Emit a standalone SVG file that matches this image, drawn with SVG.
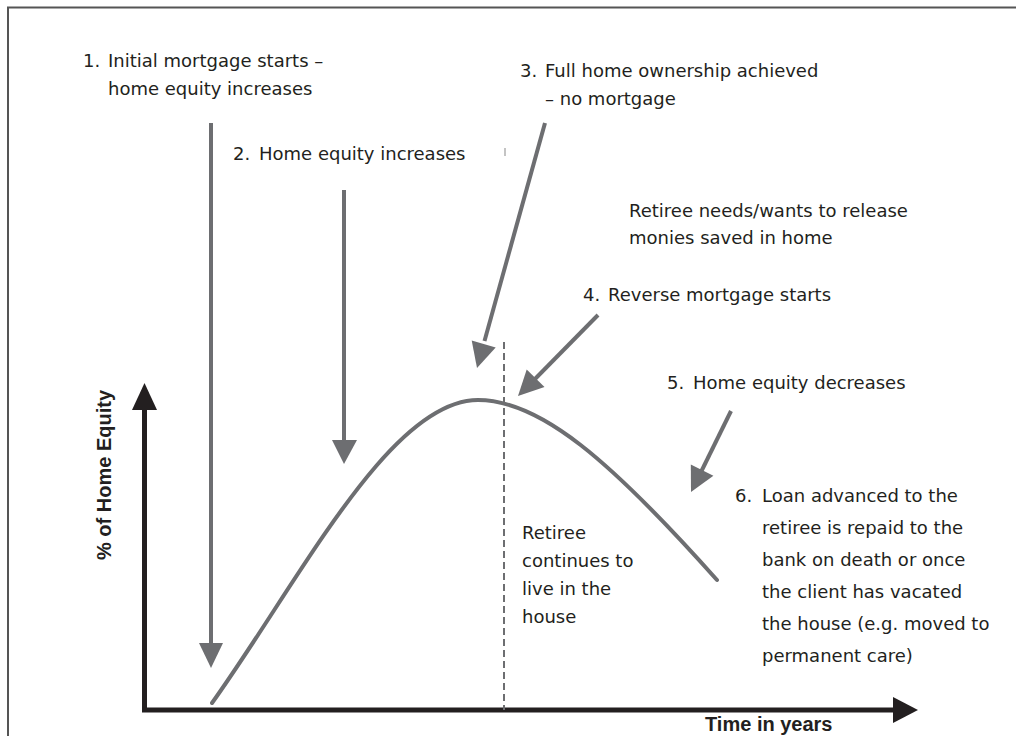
<svg xmlns="http://www.w3.org/2000/svg" width="1016" height="736" viewBox="0 0 1016 736">
<style>
.t{font-family:"DejaVu Sans",sans-serif;font-size:18px;fill:#231f20}
.b{font-family:"Liberation Sans",Arial,sans-serif;font-size:20px;font-weight:bold;fill:#231f20}
.g{stroke:#6d6e71;stroke-width:4;fill:none}
.gh{fill:#6d6e71}
.ax{stroke:#231f20;stroke-width:5;fill:none}
.ah{fill:#231f20}
</style>
<rect width="1016" height="736" fill="#fff"/>
<path d="M8,736 V7.5 H1016" fill="none" stroke="#555" stroke-width="2"/>
<g id="axes">
<line class="ax" x1="144.5" y1="712" x2="144.5" y2="408"/>
<polygon class="ah" points="144.5,383 132,410 157,410"/>
<line class="ax" x1="142" y1="710" x2="895" y2="710"/>
<polygon class="ah" points="918,710 893,697 893,723"/>
<text class="b" x="705" y="731">Time in years</text>
<text class="b" transform="translate(111,560) rotate(-90)">% of Home Equity</text>
</g>
<g id="curve">
<path class="g" stroke-linecap="round" d="M212,703 C300,580 390,400 478,400 C540,400 610,460 717,580"/>
<line x1="504" y1="342" x2="504" y2="710" stroke="#6d6e71" stroke-width="2" stroke-dasharray="7,4"/>
<line x1="505" y1="148" x2="505" y2="156" stroke="#b0b0b0" stroke-width="1.5"/>
</g>
<g id="connectors">
<line class="g" x1="211" y1="123" x2="211" y2="645"/>
<polygon class="gh" points="211,668 199,643 223,643"/>
<line class="g" x1="344" y1="190" x2="344" y2="442"/>
<polygon class="gh" points="344,464 332,440 357,440"/>
<line class="g" x1="545" y1="123" x2="484.5" y2="341"/>
<polygon class="gh" points="477,368 471.7,340.4 495.7,347.4"/>
<line class="g" x1="598" y1="315" x2="534" y2="380"/>
<polygon class="gh" points="518,396 526.7,369.4 544.5,387"/>
<line class="g" x1="731" y1="411" x2="701" y2="472"/>
<polygon class="gh" points="691,492 690.8,464.6 713.4,475.8"/>
</g>
<g id="label1">
<text class="t" x="83" y="67">1.</text>
<text class="t" x="108" y="67">Initial mortgage starts –</text>
<text class="t" x="108" y="95">home equity increases</text>
</g>
<g id="label2">
<text class="t" x="233" y="160">2.</text>
<text class="t" x="259" y="160">Home equity increases</text>
</g>
<g id="label3">
<text class="t" x="520" y="77">3.</text>
<text class="t" x="545" y="77">Full home ownership achieved</text>
<text class="t" x="545" y="105">– no mortgage</text>
</g>
<g id="labelRetiree">
<text class="t" x="629" y="217">Retiree needs/wants to release</text>
<text class="t" x="629" y="244">monies saved in home</text>
</g>
<g id="label4">
<text class="t" x="583" y="301">4.</text>
<text class="t" x="608" y="301">Reverse mortgage starts</text>
</g>
<g id="label5">
<text class="t" x="667" y="389">5.</text>
<text class="t" x="693" y="389">Home equity decreases</text>
</g>
<g id="label6">
<text class="t" x="735" y="502">6.</text>
<text class="t" x="762" y="502">Loan advanced to the</text>
<text class="t" x="762" y="534">retiree is repaid to the</text>
<text class="t" x="762" y="566">bank on death or once</text>
<text class="t" x="762" y="598">the client has vacated</text>
<text class="t" x="762" y="630">the house (e.g. moved to</text>
<text class="t" x="762" y="662">permanent care)</text>
</g>
<g id="labelLive">
<text class="t" x="522" y="539">Retiree</text>
<text class="t" x="522" y="567">continues to</text>
<text class="t" x="522" y="595">live in the</text>
<text class="t" x="522" y="623">house</text>
</g>
</svg>
